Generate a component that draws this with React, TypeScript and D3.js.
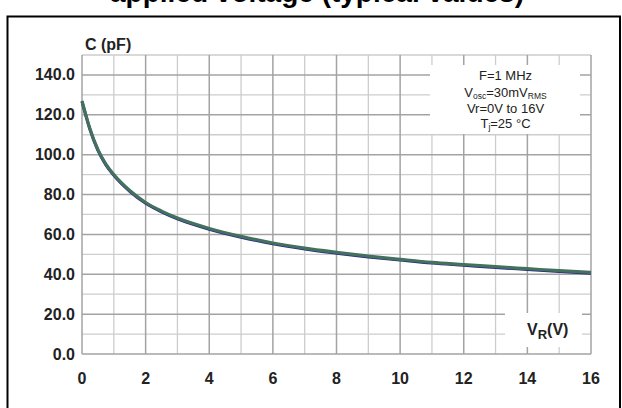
import React from "react";
import * as d3 from "d3";

const voltages = [0, 0.25, 0.5, 0.75, 1, 1.5, 2, 2.5, 3, 4, 5, 6, 7, 8, 9, 10, 11, 12, 13, 14, 15, 16];
const capacitance = [127, 113, 102.5, 95.3, 90, 82, 76, 71.7, 68.2, 63, 59, 55.7, 53.1, 51, 49.1, 47.5, 46, 44.9, 43.8, 42.8, 41.8, 40.9];
const xTicks = [0, 2, 4, 6, 8, 10, 12, 14, 16];
const yTicks = [0, 20, 40, 60, 80, 100, 120, 140];
const xMinor = d3.range(0, 17, 1);
const yMinor = d3.range(0, 151, 10);

const W = 622;
const H = 408;
const FONT = "'Liberation Sans', Arial, Helvetica, sans-serif";

export default function App() {
  const x = d3.scaleLinear().domain([0, 16]).range([82, 591]);
  const y = d3.scaleLinear().domain([0, 150]).range([354, 55]);
  const pts = voltages.map((v, i) => [v, capacitance[i]] as [number, number]);
  const line = d3
    .line<[number, number]>()
    .x((d) => x(d[0]))
    .y((d) => y(d[1]))
    .curve(d3.curveMonotoneX);
  const path = line(pts) || "";

  const isMajorX = (v: number) => v % 2 === 0;
  const isMajorY = (v: number) => v % 20 === 0;

  return (
    <svg
      width={W}
      height={H}
      style={{ position: "absolute", left: 0, top: 0, background: "#fff" }}
      fontFamily={FONT}
    >
      <rect x={0} y={0} width={W} height={H} fill="#fff" />
      {/* title, cut off by the page top as in the reference */}
      <text x={317} y={1.5} textAnchor="middle" fontSize={28} fontWeight="bold" fill="#000">
        applied voltage (typical values)
      </text>
      {/* frame */}
      <rect x={7.5} y={16.5} width={612.5} height={420} fill="none" stroke="#000" strokeWidth={2} />

      {/* grid minor */}
      {yMinor.filter((v) => !isMajorY(v)).map((v) => (
        <line key={"ym" + v} x1={x(0)} x2={x(16)} y1={y(v)} y2={y(v)} stroke="#cdcdcd" strokeWidth={1.3} />
      ))}
      {xMinor.filter((v) => !isMajorX(v)).map((v) => (
        <line key={"xm" + v} x1={x(v)} x2={x(v)} y1={y(0)} y2={y(150)} stroke="#cdcdcd" strokeWidth={1.3} />
      ))}
      {/* grid major */}
      {yMinor.filter((v) => isMajorY(v)).map((v) => (
        <line key={"yM" + v} x1={x(0)} x2={x(16)} y1={y(v)} y2={y(v)} stroke="#a3a3a3" strokeWidth={1.5} />
      ))}
      {xMinor.filter((v) => isMajorX(v)).map((v) => (
        <line key={"xM" + v} x1={x(v)} x2={x(v)} y1={y(0)} y2={y(150)} stroke="#a3a3a3" strokeWidth={1.5} />
      ))}

      {/* y tick labels */}
      {yTicks.map((v) => (
        <text key={"yl" + v} x={75} y={y(v) + 5.5} textAnchor="end" fontSize={16} fontWeight="bold" fill="#222">
          {v.toFixed(1)}
        </text>
      ))}
      {/* x tick labels */}
      {xTicks.map((v) => (
        <text key={"xl" + v} x={x(v)} y={384} textAnchor="middle" fontSize={16} fontWeight="bold" fill="#222">
          {v}
        </text>
      ))}

      <text x={85} y={50} fontSize={16} fontWeight="bold" fill="#222">C (pF)</text>

      {/* curve */}
      <path d={path} fill="none" stroke="#28288a" strokeWidth={3} transform="translate(0,0.8)" />
      <path d={path} fill="none" stroke="#44705e" strokeWidth={3.2} />

      {/* legend box */}
      <rect x={430} y={65} width={150} height={69} fill="#fff" />
      <g fontSize={13} fill="#222" textAnchor="middle">
        <text x={505.5} y={80}>F=1 MHz</text>
        <text x={505.5} y={96.5}>
          V<tspan fontSize={8.5} dy={2}>osc</tspan>
          <tspan dy={-2}>=30mV</tspan>
          <tspan fontSize={8.5} dy={2}>RMS</tspan>
        </text>
        <text x={505.5} y={113}>Vr=0V to 16V</text>
        <text x={505.5} y={128}>
          T<tspan fontSize={8.5} dy={2}>j</tspan>
          <tspan dy={-2}>=25 °C</tspan>
        </text>
      </g>

      {/* x axis label box */}
      <rect x={505} y={313} width={77} height={34} fill="#fff" />
      <text x={527} y={335} fontSize={16} fontWeight="bold" fill="#222">
        V<tspan fontSize={13} dy={4}>R</tspan>
        <tspan dy={-4}>(V)</tspan>
      </text>
    </svg>
  );
}
